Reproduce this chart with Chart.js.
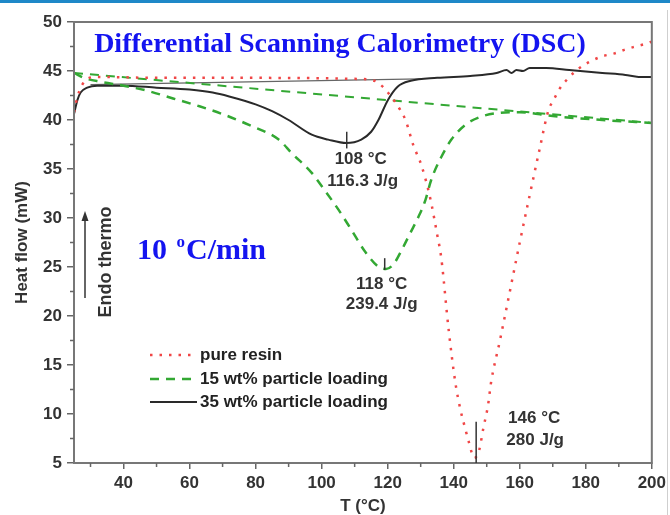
<!DOCTYPE html>
<html>
<head>
<meta charset="utf-8">
<script src="https://cdn.jsdelivr.net/npm/chart.js@4.4.0/dist/chart.umd.min.js"></script>
<style>
  body { margin: 0; background: #fff; }
  #wrap { width: 670px; height: 515px; }
</style>
</head>
<body>
<div id="wrap"><canvas id="dsc" width="670" height="515"></canvas></div>
<script>
// series (T in degC, heat flow in mW)
const resinT  = [25,26,27.5,29,32,50,80,110,116,118.5,121,123.5,125.4,127.8,130.2,132.9,135,136.2,138.5,140.5,142,143.5,144.7,146.2,147.7,149,150.4,151.3,154,157,160,163,166,168.7,170.2,172.1,174.8,178.1,181.5,185,188.7,192,195.1,198.4,200];
const resinHF = [40.8,42.3,43.6,44.2,44.4,44.3,44.3,44.2,44.0,43.4,42.4,41.2,40.0,37.4,35.4,32.0,28.3,26.0,18.5,13.2,10.5,8.5,7.0,5.5,6.3,8.6,10.9,13.2,17.5,22.5,27.5,32.3,37.0,41.0,42.0,43.2,44.3,45.3,46.0,46.5,46.8,47.2,47.5,47.8,48.0];

const load15T  = [25,28,33,40,47,55,63,70,78,87,91,97,101,105.2,109,113.3,117.3,119.5,121.8,124.2,126.9,129.3,131.4,133.2,136.2,139.3,143.5,148,153,160,170,185,200];
const load15HF = [44.8,44.3,43.9,43.5,43.0,42.2,41.4,40.6,39.5,38.0,36.6,34.6,32.8,30.8,28.8,26.5,25.0,24.8,25.3,26.7,28.5,30.1,31.8,33.9,36.2,38.0,39.5,40.3,40.7,40.8,40.4,40.0,39.7];
const base15T  = [25,200];
const base15HF = [44.8,39.7];

const load35T  = [25,26,27,29,32,40,50,60,67,72,80,85,90,97,102,107.5,112,115,117.2,120,123,127,135,145,153,156,157.5,159,161,163,168,175,185,192,196,200];
const load35HF = [40.6,42.0,42.8,43.3,43.5,43.5,43.3,43.1,42.8,42.4,41.6,40.9,40.0,38.5,38.0,37.65,38.0,38.8,40.0,42.0,43.4,44.0,44.3,44.5,44.8,45.1,44.8,45.1,45.0,45.3,45.3,45.1,44.8,44.6,44.4,44.4];
const base35T  = [30,130];
const base35HF = [43.6,44.2];

const seriesNames = ['pure resin', '15 wt% particle loading', '35 wt% particle loading'];

// peak markers
const peakT      = [107.6, 119.1, 146.8];
const peakTop    = [38.8, 25.9, 9.2];
const peakBottom = [37.1, 24.7, 5];
const peakTemp   = ['108 °C', '118 °C', '146 °C'];
const peakEnth   = ['116.3 J/g', '239.4 J/g', '280 J/g'];

const xTicks = [40,60,80,100,120,140,160,180,200];
const xMinor = [30,50,70,90,110,130,150,170,190];
const yTicks = [5,10,15,20,25,30,35,40,45,50];
const yMinor = [7.5,12.5,17.5,22.5,27.5,32.5,37.5,42.5,47.5];

const RED = '#f04646';
const GREEN = '#33a833';
const BLACK = '#2a2a2a';

function pts(xs, ys) { return xs.map((t, i) => ({ x: t, y: ys[i] })); }

Chart.defaults.font.family = '"Liberation Sans", Arial, sans-serif';

const decor = {
  id: 'decor',
  beforeDraw(chart) {
    const ctx = chart.ctx;
    ctx.save();
    ctx.fillStyle = '#fff';
    ctx.fillRect(0, 0, chart.width, chart.height);
    ctx.restore();
  },
  afterDraw(chart) {
    const { ctx, chartArea: a, scales: { x, y } } = chart;
    ctx.save();

    // page decorations
    ctx.fillStyle = '#1e88c8';
    ctx.fillRect(0, 0, chart.width, 3);
    ctx.strokeStyle = '#cfcfcf';
    ctx.lineWidth = 1;
    ctx.beginPath(); ctx.moveTo(667.5, 10); ctx.lineTo(667.5, 515); ctx.stroke();

    // frame
    ctx.strokeStyle = '#777';
    ctx.lineWidth = 2;
    ctx.strokeRect(a.left, a.top, a.right - a.left, a.bottom - a.top);

    // minor ticks
    ctx.strokeStyle = '#666';
    ctx.lineWidth = 1.5;
    ctx.beginPath();
    xMinor.forEach(v => { const px = x.getPixelForValue(v); ctx.moveTo(px, a.bottom); ctx.lineTo(px, a.bottom + 4); });
    yMinor.forEach(v => { const py = y.getPixelForValue(v); ctx.moveTo(a.left, py); ctx.lineTo(a.left - 4, py); });
    ctx.stroke();

    // title
    ctx.fillStyle = '#1414f0';
    ctx.font = 'bold 28px "Liberation Serif", serif';
    ctx.textAlign = 'center';
    ctx.textBaseline = 'middle';
    ctx.fillText('Differential Scanning Calorimetry (DSC)', 340, 45);

    // heating rate
    ctx.textAlign = 'left';
    ctx.font = 'bold 30px "Liberation Serif", serif';
    let cx = 137;
    ctx.fillText('10', cx, 251);
    cx += ctx.measureText('10 ').width + 2;
    ctx.font = 'bold 17px "Liberation Serif", serif';
    ctx.fillText('o', cx, 243);
    cx += ctx.measureText('o').width + 1;
    ctx.font = 'bold 30px "Liberation Serif", serif';
    ctx.fillText('C/min', cx, 251);

    // endo arrow
    ctx.strokeStyle = '#333';
    ctx.fillStyle = '#333';
    ctx.lineWidth = 1.5;
    ctx.beginPath(); ctx.moveTo(85, 298); ctx.lineTo(85, 218); ctx.stroke();
    ctx.beginPath(); ctx.moveTo(85, 211); ctx.lineTo(81.5, 221); ctx.lineTo(88.5, 221); ctx.closePath(); ctx.fill();
    ctx.save();
    ctx.translate(106, 262);
    ctx.rotate(-Math.PI / 2);
    ctx.textAlign = 'center';
    ctx.font = 'bold 18px "Liberation Sans", Arial, sans-serif';
    ctx.fillText('Endo thermo', 0, 0);
    ctx.restore();

    // peak marks and labels
    const offs = [[14, 28, 16, 50], [-3, 26, -3, 46], [58, -4, 59, 18]];
    ctx.font = 'bold 17px "Liberation Sans", Arial, sans-serif';
    ctx.textAlign = 'center';
    ctx.fillStyle = '#333';
    peakT.forEach((t, i) => {
      const px = x.getPixelForValue(t);
      const pTop = y.getPixelForValue(peakTop[i]);
      const pBot = y.getPixelForValue(peakBottom[i]);
      ctx.beginPath(); ctx.moveTo(px, pTop); ctx.lineTo(px, pBot); ctx.stroke();
      const o = offs[i];
      ctx.fillText(peakTemp[i], px + o[0], pTop + o[1]);
      ctx.fillText(peakEnth[i], px + o[2], pTop + o[3]);
    });

    // legend
    const styles = [
      { c: RED, dash: [2.5, 7], w: 2.5 },
      { c: GREEN, dash: [9, 7], w: 2.5 },
      { c: BLACK, dash: [], w: 2 }
    ];
    const rows = [355, 379, 402];
    ctx.textAlign = 'left';
    ctx.font = 'bold 17px "Liberation Sans", Arial, sans-serif';
    seriesNames.forEach((n, i) => {
      ctx.strokeStyle = styles[i].c;
      ctx.lineWidth = styles[i].w;
      ctx.setLineDash(styles[i].dash);
      ctx.beginPath(); ctx.moveTo(150, rows[i]); ctx.lineTo(197, rows[i]); ctx.stroke();
      ctx.setLineDash([]);
      ctx.fillStyle = '#222';
      ctx.fillText(n, 200, rows[i]);
    });

    ctx.restore();
  }
};

const config = {
  type: 'line',
  data: {
    datasets: [
      { label: seriesNames[0], data: pts(resinT, resinHF), borderColor: RED, borderWidth: 2.5, borderDash: [2.5, 7], cubicInterpolationMode: 'monotone' },
      { label: seriesNames[1], data: pts(load15T, load15HF), borderColor: GREEN, borderWidth: 2.5, borderDash: [9, 7], cubicInterpolationMode: 'monotone' },
      { label: 'baseline 15', data: pts(base15T, base15HF), borderColor: GREEN, borderWidth: 2, borderDash: [9, 7] },
      { label: seriesNames[2], data: pts(load35T, load35HF), borderColor: BLACK, borderWidth: 2, cubicInterpolationMode: 'monotone' },
      { label: 'baseline 35', data: pts(base35T, base35HF), borderColor: '#666', borderWidth: 1.2 }
    ]
  },
  options: {
    responsive: false,
    animation: false,
    devicePixelRatio: 1,
    layout: { padding: { top: 22, right: 16, left: 0, bottom: 0 } },
    elements: { point: { radius: 0 } },
    plugins: { legend: { display: false }, tooltip: { enabled: false } },
    scales: {
      x: {
        type: 'linear', min: 25, max: 200,
        afterBuildTicks: s => { s.ticks = xTicks.map(v => ({ value: v })); },
        afterFit: s => { s.height = 52; },
        grid: { drawOnChartArea: false, tickLength: 6, color: '#666', lineWidth: 1.5 },
        border: { color: '#777', width: 2 },
        ticks: { font: { size: 17, weight: 'bold' }, color: '#333', padding: 4, maxRotation: 0 },
        title: { display: true, text: 'T (°C)', font: { size: 17, weight: 'bold', lineHeight: 1 }, color: '#333', padding: { top: 0, bottom: 0 } }
      },
      y: {
        type: 'linear', min: 5, max: 50,
        afterBuildTicks: s => { s.ticks = yTicks.map(v => ({ value: v })); },
        afterFit: s => { s.width = 74; },
        grid: { drawOnChartArea: false, tickLength: 7, color: '#666', lineWidth: 1.5 },
        border: { color: '#777', width: 2 },
        ticks: { font: { size: 17, weight: 'bold' }, color: '#333', padding: 5 },
        title: { display: true, text: 'Heat flow (mW)', font: { size: 17, weight: 'bold', lineHeight: 1 }, color: '#333', padding: { top: 14, bottom: 0 } }
      }
    }
  },
  plugins: [decor]
};

const myChart = new Chart(document.getElementById('dsc'), config);
</script>
</body>
</html>
